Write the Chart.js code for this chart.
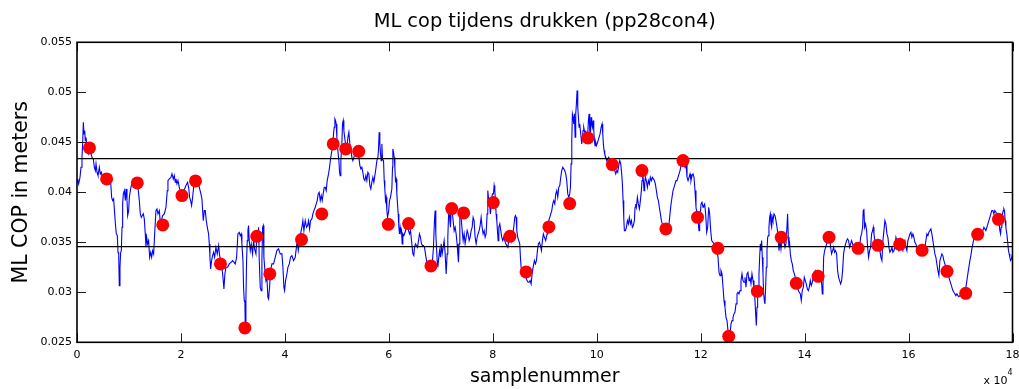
<!DOCTYPE html>
<html>
<head>
<meta charset="utf-8">
<script src="https://cdn.jsdelivr.net/npm/chart.js@4.4.1/dist/chart.umd.min.js"></script>
<style>
html,body{margin:0;padding:0;background:#fff;}
canvas{display:block;}
</style>
</head>
<body>
<canvas id="c" width="1019" height="389"></canvas>
<script>
// ---------- data (x in units of 10^4 samples) ----------
const titleText = 'ML cop tijdens drukken (pp28con4)';
const xTitle = 'samplenummer';
const yTitle = 'ML COP in meters';
const xTickValues = [0,2,4,6,8,10,12,14,16,18];
const xTickLabels = ['0','2','4','6','8','10','12','14','16','18'];
const yTickValues = [0.025,0.03,0.035,0.04,0.045,0.05,0.055];
const yTickLabels = ['0.025','0.03','0.035','0.04','0.045','0.05','0.055'];
const xMin = 0, xMax = 18, yMin = 0.025, yMax = 0.055;

const upperLine = 0.04337;
const lowerLine = 0.03457;

const dotX = [0.24,0.57,1.16,1.65,2.02,2.28,2.76,3.23,3.46,3.71,4.32,4.71,4.93,5.17,5.42,5.99,6.38,6.81,7.21,7.44,8.01,8.33,8.64,9.08,9.48,9.83,10.30,10.87,11.33,11.66,11.94,12.33,12.54,13.09,13.55,13.84,14.26,14.47,15.03,15.41,15.83,16.26,16.74,17.10,17.33,17.73];
const dotY = [0.04444,0.04134,0.04094,0.03674,0.03967,0.04114,0.03284,0.02644,0.03560,0.03184,0.03527,0.03784,0.04484,0.04434,0.04410,0.03680,0.03687,0.03264,0.03837,0.03794,0.03897,0.03560,0.03204,0.03654,0.03887,0.04544,0.04277,0.04217,0.03634,0.04317,0.03750,0.03440,0.02560,0.03010,0.03550,0.03090,0.03160,0.03550,0.03440,0.03470,0.03480,0.03420,0.03210,0.02990,0.03580,0.03730];

const traceX = [
0,0.013,0.032,0.058,0.077,0.096,0.109,0.122,0.135,0.148,0.16,0.173,0.193,0.225,0.25,0.289,0.314,0.334,0.353,0.366,0.385,0.404,0.43,0.449,0.468,0.494,0.526,0.558,0.59,0.622,0.648,0.667,0.686,0.705,0.725,0.744,0.757,0.776,0.789,0.802,0.814,0.827,0.84,0.853,0.866,0.878,0.891,0.911,0.93,0.943,0.962,0.975,0.994,1.007,1.026,1.045,1.071,1.103,1.135,1.154,1.173,1.199,1.218,1.237,1.257,1.276,1.295,1.314,1.327,1.34,1.359,1.378,1.398,1.417,1.436,1.455,1.475,1.494,1.519,1.539,1.558,1.584,1.603,1.622,1.648,1.68,1.712,1.737,1.75,1.776,1.808,1.827,1.853,1.872,1.891,1.904,1.923,1.943,1.968,1.994,2.02,2.045,2.071,2.096,2.128,2.148,2.167,2.186,2.205,2.225,2.244,2.263,2.289,2.308,2.327,2.353,2.378,2.404,2.417,2.43,2.449,2.468,2.487,2.513,2.532,2.545,2.558,2.571,2.59,2.609,2.628,2.648,2.673,2.699,2.725,2.744,2.769,2.789,2.808,2.827,2.846,2.866,2.898,2.93,2.962,2.994,
3.045,3.071,3.096,3.122,3.141,3.16,3.173,3.193,3.205,3.218,3.231,3.237,3.25,3.263,3.276,3.289,3.301,3.314,3.334,3.353,3.378,3.398,3.417,3.443,3.462,3.481,3.494,3.507,3.526,3.545,3.558,3.571,3.584,3.596,3.616,3.635,3.654,3.673,3.686,3.705,3.725,3.75,3.782,3.814,3.846,3.878,3.91,3.943,3.962,3.981,3.994,4.013,4.039,4.058,4.084,4.109,4.135,4.167,4.199,4.218,4.237,4.257,4.276,4.302,4.327,4.346,4.366,4.391,4.417,4.436,4.455,4.475,4.494,4.519,4.539,4.558,4.584,4.603,4.622,4.641,4.66,4.68,4.699,4.718,4.737,4.757,4.776,4.795,4.814,4.84,4.859,4.878,4.904,4.923,4.936,4.949,4.962,4.975,4.987,5.0,5.019,5.039,5.052,5.064,5.077,5.096,5.109,5.122,5.135,5.154,5.173,5.193,5.212,5.231,5.25,5.27,5.289,5.308,5.327,5.347,5.366,5.385,5.404,5.423,5.443,5.462,5.481,5.5,5.519,5.539,5.558,5.577,5.596,5.616,5.635,5.654,5.673,5.693,5.712,5.731,5.75,5.77,5.789,5.801,5.814,5.827,5.84,5.853,5.866,5.878,5.898,5.911,5.923,5.936,5.949,5.962,5.975,5.994,6.013,6.032,
6.058,6.071,6.077,6.09,6.103,6.116,6.128,6.141,6.154,6.167,6.18,6.193,6.205,6.218,6.231,6.244,6.257,6.27,6.289,6.314,6.334,6.353,6.378,6.398,6.417,6.443,6.462,6.481,6.494,6.513,6.532,6.552,6.571,6.59,6.609,6.628,6.648,6.667,6.686,6.705,6.725,6.75,6.782,6.814,6.84,6.859,6.878,6.891,6.904,6.917,6.93,6.943,6.955,6.975,6.994,7.007,7.026,7.045,7.064,7.084,7.103,7.122,7.135,7.148,7.16,7.173,7.186,7.199,7.218,7.237,7.257,7.276,7.295,7.314,7.327,7.34,7.353,7.366,7.378,7.391,7.411,7.43,7.449,7.468,7.487,7.507,7.526,7.545,7.564,7.584,7.603,7.622,7.641,7.66,7.68,7.699,7.718,7.737,7.757,7.776,7.795,7.814,7.834,7.853,7.872,7.891,7.904,7.917,7.93,7.943,7.955,7.968,7.981,7.994,8.013,8.026,8.039,8.052,8.064,8.077,8.09,8.103,8.116,8.135,8.154,8.173,8.193,8.212,8.231,8.25,8.27,8.289,8.308,8.327,8.347,8.366,8.385,8.404,8.423,8.436,8.449,8.462,8.481,8.5,8.519,8.532,8.545,8.564,8.584,8.609,8.635,8.66,8.68,8.699,8.718,8.738,8.757,8.776,8.801,8.821,8.84,8.859,8.878,8.898,8.917,8.936,8.955,8.974,8.994,9.019,9.045,9.058,
9.077,9.096,9.116,9.135,9.154,9.173,9.193,9.212,9.231,9.25,9.27,9.289,9.308,9.327,9.346,9.366,9.385,9.404,9.423,9.443,9.462,9.481,9.494,9.507,9.52,9.532,9.545,9.558,9.571,9.584,9.596,9.609,9.622,9.635,9.648,9.66,9.673,9.686,9.699,9.712,9.725,9.737,9.75,9.763,9.776,9.789,9.802,9.814,9.827,9.84,9.853,9.866,9.878,9.891,9.904,9.917,9.93,9.943,9.955,9.968,9.981,9.994,10.007,10.026,10.045,10.064,10.084,10.103,10.116,10.128,10.141,10.154,10.173,10.193,10.212,10.231,10.25,10.27,10.289,10.308,10.327,10.346,10.366,10.385,10.404,10.423,10.443,10.462,10.481,10.494,10.507,10.52,10.532,10.552,10.571,10.59,10.609,10.628,10.648,10.667,10.686,10.705,10.725,10.737,10.75,10.763,10.782,10.801,10.821,10.84,10.859,10.872,10.885,10.898,10.91,10.923,10.936,10.955,10.975,10.994,11.013,11.032,11.052,11.071,11.09,11.109,11.128,11.148,11.167,11.186,11.205,11.225,11.244,11.263,11.289,11.314,11.34,11.366,11.391,11.41,11.43,11.449,11.468,11.487,11.507,11.526,11.545,11.564,11.584,11.603,11.622,11.641,11.66,11.68,11.699,11.718,11.737,11.757,11.776,11.795,11.814,11.834,11.853,11.872,11.891,11.91,11.93,11.949,11.968,11.981,11.994,12.007,12.026,12.045,12.058,
12.077,12.096,12.116,12.135,12.154,12.173,12.193,12.212,12.237,12.263,12.289,12.314,12.334,12.353,12.372,12.391,12.411,12.43,12.449,12.468,12.487,12.507,12.526,12.545,12.564,12.584,12.603,12.622,12.641,12.66,12.68,12.699,12.718,12.737,12.757,12.776,12.795,12.814,12.834,12.853,12.872,12.891,12.91,12.93,12.949,12.968,12.987,13.007,13.026,13.045,13.058,13.071,13.084,13.096,13.109,13.122,13.135,13.148,13.16,13.173,13.186,13.199,13.212,13.225,13.237,13.25,13.263,13.276,13.289,13.302,13.314,13.327,13.34,13.353,13.366,13.378,13.391,13.411,13.43,13.449,13.468,13.487,13.507,13.526,13.545,13.564,13.584,13.603,13.622,13.641,13.66,13.673,13.686,13.699,13.712,13.725,13.744,13.763,13.782,13.802,13.821,13.84,13.859,13.878,13.898,13.917,13.936,13.955,13.975,13.994,14.013,14.032,14.052,14.071,14.09,14.109,14.128,14.148,14.167,14.186,14.205,14.225,14.244,14.263,14.282,14.302,14.321,14.34,14.353,14.366,14.385,14.404,14.423,14.443,14.462,14.481,14.5,14.519,14.539,14.558,14.577,14.596,14.616,14.635,14.654,14.673,14.693,14.712,14.731,14.75,14.77,14.789,14.808,14.827,14.846,14.866,14.885,14.904,14.923,14.943,14.962,14.981,15.0,15.019,15.038,15.058,
15.077,15.096,15.116,15.128,15.141,15.154,15.173,15.193,15.212,15.231,15.25,15.27,15.289,15.308,15.321,15.334,15.353,15.372,15.391,15.41,15.43,15.449,15.468,15.487,15.507,15.526,15.545,15.564,15.584,15.603,15.622,15.641,15.66,15.68,15.699,15.718,15.737,15.757,15.776,15.795,15.814,15.834,15.853,15.872,15.891,15.91,15.93,15.949,15.968,15.987,16.007,16.026,16.045,16.064,16.084,16.103,16.122,16.141,16.16,16.18,16.199,16.218,16.237,16.257,16.276,16.295,16.314,16.334,16.353,16.372,16.391,16.41,16.43,16.449,16.468,16.487,16.507,16.526,16.545,16.564,16.584,16.603,16.622,16.641,16.66,16.68,16.699,16.718,16.737,16.757,16.776,16.795,16.814,16.834,16.853,16.872,16.891,16.91,16.93,16.949,16.968,16.987,17.007,17.026,17.045,17.064,17.084,17.103,17.122,17.141,17.16,17.18,17.199,17.218,17.237,17.257,17.276,17.295,17.314,17.334,17.353,17.372,17.391,17.41,17.43,17.449,17.468,17.487,17.507,17.526,17.545,17.564,17.583,17.603,17.622,17.641,17.66,17.68,17.699,17.718,17.737,17.757,17.77,17.782,17.795,17.808,17.821,17.834,17.846,17.859,17.872,17.891,17.911,17.923,17.936,17.949,17.962,17.981,18.0
];
const traceY = [
0.041,0.04134,0.04084,0.0415,0.0425,0.0435,0.04484,0.047,0.04584,0.04617,0.04517,0.0455,0.0445,0.04384,0.04417,0.0435,0.04334,0.0425,0.04217,0.04284,0.042,0.04167,0.0425,0.04184,0.042,0.04134,0.04167,0.04117,0.0415,0.04084,0.041,0.0395,0.03917,0.03934,0.03784,0.0365,0.03584,0.03567,0.034,0.03384,0.03067,0.0325,0.034,0.03417,0.0365,0.03884,0.03984,0.04017,0.03917,0.04034,0.03917,0.03767,0.03817,0.0395,0.04017,0.04067,0.04084,0.041,0.04134,0.041,0.0405,0.03917,0.03784,0.0375,0.03767,0.03784,0.03734,0.03584,0.0345,0.0355,0.03484,0.03517,0.0335,0.034,0.0335,0.03417,0.03384,0.03584,0.03817,0.03834,0.03784,0.03817,0.037,0.03717,0.03767,0.03784,0.0385,0.04017,0.04117,0.04134,0.0415,0.04184,0.04134,0.04167,0.041,0.04134,0.04084,0.04117,0.0405,0.04,0.03967,0.04017,0.04034,0.04067,0.041,0.0405,0.0395,0.03917,0.03867,0.0395,0.0405,0.041,0.04117,0.04084,0.04134,0.0405,0.04,0.03934,0.03817,0.03717,0.03817,0.03817,0.03717,0.03634,0.03584,0.03484,0.0335,0.03234,0.03317,0.03367,0.034,0.0335,0.0345,0.03384,0.03467,0.03367,0.03317,0.0325,0.0315,0.03034,0.03184,0.0325,0.0325,0.03284,0.033,0.03317,
0.03284,0.0335,0.03584,0.036,0.03567,0.03584,0.03484,0.03317,0.0305,0.02917,0.029,0.0265,0.02917,0.03317,0.03517,0.03617,0.03667,0.03517,0.03417,0.03484,0.03384,0.03517,0.03434,0.03384,0.03584,0.0355,0.0365,0.03317,0.0305,0.03017,0.03317,0.0365,0.03667,0.0335,0.03217,0.03117,0.0315,0.0295,0.02934,0.0305,0.03217,0.03284,0.03284,0.0335,0.03417,0.03434,0.03384,0.03384,0.0325,0.0305,0.03017,0.03117,0.03184,0.0325,0.03284,0.0335,0.03367,0.03317,0.0335,0.03434,0.03517,0.03417,0.03484,0.03584,0.0365,0.03717,0.03617,0.03717,0.0365,0.03667,0.03717,0.03634,0.03717,0.03734,0.03784,0.03817,0.0385,0.03884,0.03917,0.03984,0.04,0.03917,0.03967,0.03917,0.03984,0.0405,0.0405,0.04017,0.04117,0.04184,0.0425,0.04334,0.04417,0.045,0.04584,0.0465,0.04734,0.04717,0.04684,0.0455,0.04417,0.04317,0.042,0.04167,0.04317,0.04484,0.04684,0.04717,0.04617,0.04534,0.04467,0.04434,0.0455,0.046,0.04484,0.04434,0.0435,0.04317,0.0435,0.04384,0.04417,0.04384,0.04367,0.0435,0.04267,0.04234,0.0425,0.042,0.04134,0.04117,0.04167,0.04117,0.042,0.04184,0.04067,0.04034,0.041,0.0415,0.041,0.04167,0.04234,0.04317,0.0435,0.04417,0.046,0.04484,0.04384,0.04317,0.04484,0.04334,0.04317,0.04117,0.04034,0.03917,0.0395,0.03817,0.0375,0.038,0.03917,0.0395,
0.04034,0.0425,0.04434,0.044,0.0435,0.0425,0.04117,0.04134,0.03984,0.03884,0.03784,0.0365,0.03584,0.0365,0.036,0.03617,0.03484,0.03584,0.03567,0.036,0.0365,0.03684,0.03617,0.03584,0.03617,0.03484,0.03384,0.03367,0.0345,0.03484,0.03467,0.0345,0.03517,0.03584,0.0355,0.03484,0.03467,0.03467,0.0345,0.03384,0.03317,0.03284,0.03267,0.03267,0.03317,0.0345,0.03717,0.03817,0.03584,0.0345,0.03317,0.0325,0.03317,0.03417,0.0335,0.03484,0.03384,0.0345,0.03517,0.03384,0.03184,0.03384,0.0355,0.0375,0.0385,0.03717,0.0365,0.03817,0.03817,0.03717,0.03617,0.0365,0.03584,0.03484,0.03384,0.033,0.03484,0.03784,0.03817,0.0375,0.03617,0.03517,0.03584,0.03484,0.0355,0.03617,0.03584,0.03517,0.0355,0.03617,0.0365,0.0375,0.03717,0.0355,0.03484,0.0355,0.03584,0.03617,0.03667,0.0375,0.0365,0.03584,0.03617,0.0355,0.03584,0.03784,0.04017,0.0395,0.03917,0.0385,0.03784,0.0385,0.0395,0.03984,0.03984,0.04067,0.04017,0.03917,0.03784,0.03717,0.03617,0.03517,0.0365,0.03684,0.03617,0.0355,0.03517,0.0355,0.03517,0.03484,0.03467,0.0345,0.03517,0.0355,0.03584,0.03517,0.03584,0.0365,0.0375,0.03767,0.0375,0.03617,0.0355,0.03517,0.03484,0.0335,0.0325,0.03217,0.032,0.03184,0.0315,0.03117,0.031,0.031,0.03117,0.03084,0.03184,0.0325,0.03317,0.03284,0.03317,0.03417,0.03484,0.035,0.03467,0.03417,0.03517,0.03584,0.0355,0.03517,0.03584,0.03617,
0.03717,0.0375,0.03784,0.03817,0.03884,0.03917,0.03884,0.03984,0.04017,0.0395,0.0405,0.04067,0.0415,0.04217,0.0425,0.04234,0.04217,0.04184,0.04117,0.03984,0.0395,0.03984,0.0405,0.04284,0.04517,0.04784,0.0475,0.04684,0.04784,0.0455,0.04784,0.04884,0.05017,0.0485,0.0475,0.0465,0.04684,0.04617,0.0455,0.04484,0.0455,0.04617,0.0465,0.04617,0.04584,0.04617,0.0455,0.04517,0.04584,0.04717,0.04784,0.04617,0.0455,0.0475,0.04684,0.0465,0.04717,0.04617,0.04517,0.04467,0.045,0.04467,0.04484,0.04517,0.0455,0.04584,0.0465,0.04684,0.04584,0.04484,0.04417,0.04384,0.0435,0.04317,0.04334,0.0435,0.04317,0.04284,0.04267,0.0425,0.04234,0.04217,0.04184,0.04217,0.042,0.04267,0.04317,0.04284,0.04184,0.04084,0.03917,0.0375,0.03617,0.03617,0.0365,0.03717,0.03684,0.0375,0.03684,0.03717,0.0365,0.03667,0.03717,0.0385,0.03884,0.0385,0.0395,0.03884,0.03834,0.03917,0.04017,0.04117,0.04184,0.04117,0.04017,0.04084,0.0415,0.04117,0.0405,0.04117,0.04084,0.0415,0.04117,0.0415,0.04134,0.04117,0.04084,0.04017,0.0395,0.03917,0.0385,0.03784,0.03717,0.03684,0.0365,0.03634,0.03617,0.03634,0.03684,0.03784,0.03884,0.0395,0.04017,0.0405,0.04084,0.04117,0.04117,0.0415,0.04184,0.04217,0.04267,0.043,0.04317,0.04284,0.0425,0.04284,0.0415,0.04117,0.0415,0.04184,0.04117,0.04167,0.04184,0.0415,0.04017,0.0385,0.03784,0.03717,0.03617,0.03717,0.03784,0.03884,0.039,0.0385,0.03867,
0.03884,0.03784,0.036,0.0365,0.0385,0.03784,0.03617,0.03517,0.035,0.03484,0.0345,0.03417,0.0335,0.032,0.03167,0.03217,0.03184,0.0305,0.02917,0.0285,0.0275,0.02717,0.02617,0.02584,0.02584,0.02684,0.02717,0.0275,0.02784,0.028,0.02884,0.02984,0.03,0.02984,0.03017,0.03117,0.03184,0.03117,0.031,0.0315,0.0305,0.03184,0.032,0.03117,0.0315,0.03084,0.03184,0.03117,0.0305,0.02917,0.02784,0.02667,0.0285,0.0295,0.0305,0.03184,0.0335,0.03484,0.03417,0.03517,0.0335,0.03184,0.02984,0.02917,0.02884,0.0305,0.0325,0.03417,0.0355,0.03567,0.0365,0.0375,0.03784,0.03684,0.0365,0.0375,0.03717,0.03784,0.03767,0.03717,0.0365,0.03584,0.03417,0.03517,0.03434,0.03534,0.0355,0.03517,0.0345,0.03484,0.0365,0.03784,0.0355,0.0345,0.03484,0.03384,0.03317,0.03284,0.03217,0.03184,0.0315,0.031,0.0305,0.03017,0.03,0.02984,0.02917,0.03017,0.0305,0.0315,0.03117,0.03084,0.03034,0.03017,0.0305,0.03117,0.03067,0.031,0.0315,0.03184,0.03217,0.032,0.03217,0.032,0.03184,0.03167,0.0315,0.02984,0.0305,0.0335,0.03417,0.0345,0.03484,0.0355,0.03584,0.0355,0.0345,0.03384,0.03417,0.0345,0.034,0.03417,0.03384,0.03217,0.0315,0.03117,0.03084,0.03117,0.03217,0.03384,0.0345,0.03484,0.03517,0.03534,0.03517,0.0345,0.03484,0.03517,0.03484,0.0345,0.03434,0.034,0.03434,0.0345,0.03467,0.0345,
0.0355,0.03584,0.0365,0.03817,0.03834,0.0365,0.03684,0.03617,0.0345,0.0335,0.03417,0.0345,0.03584,0.03617,0.0365,0.03584,0.03517,0.0345,0.03484,0.03517,0.0345,0.03417,0.0335,0.03317,0.03517,0.03617,0.03717,0.03684,0.03584,0.0355,0.0345,0.034,0.03417,0.0345,0.034,0.03417,0.0345,0.0355,0.03517,0.0345,0.03417,0.0345,0.03517,0.0345,0.03417,0.03484,0.03517,0.0345,0.03417,0.03517,0.0355,0.03584,0.036,0.0355,0.03584,0.0355,0.035,0.03484,0.0345,0.03434,0.0345,0.0345,0.03434,0.03417,0.03434,0.03417,0.0345,0.03517,0.03584,0.03567,0.036,0.03617,0.03634,0.03584,0.03517,0.0345,0.03384,0.0335,0.03284,0.03217,0.03167,0.03317,0.0335,0.03384,0.03367,0.03317,0.03284,0.0325,0.03217,0.03184,0.0315,0.03117,0.03084,0.0305,0.03017,0.03,0.02984,0.02967,0.02984,0.02967,0.02957,0.02967,0.02984,0.02984,0.03,0.03,0.03,0.0305,0.03117,0.03184,0.0325,0.03317,0.03367,0.03434,0.03484,0.03534,0.03567,0.03584,0.03584,0.036,0.03617,0.036,0.03617,0.03584,0.03617,0.0365,0.03634,0.03617,0.0365,0.03684,0.03717,0.0375,0.03784,0.03817,0.03817,0.03784,0.03817,0.038,0.03784,0.03767,0.03717,0.03617,0.03584,0.0365,0.03717,0.03784,0.03817,0.03834,0.03817,0.03717,0.0365,0.03584,0.03484,0.03417,0.03384,0.0335,0.03317,0.03334,0.03384
];

// ---------- build datasets from the arrays ----------
const tracePoints = traceX.map((x, i) => ({x: x, y: traceY[i]}));
const dotPoints = dotX.map((x, i) => ({x: x, y: dotY[i]}));
const FONT = 'DejaVu Sans';

const matlabAxes = {
  id: 'matlabAxes',
  afterDraw(chart) {
    const ctx = chart.ctx;
    const a = chart.chartArea;
    const xs = chart.scales.x, ys = chart.scales.y;
    ctx.save();
    // inward ticks on all four sides
    ctx.strokeStyle = '#1a1a1a';
    ctx.lineWidth = 1;
    const tl = 9;
    ctx.beginPath();
    xTickValues.forEach(v => {
      const px = Math.round(xs.getPixelForValue(v)) + 0.5;
      ctx.moveTo(px, a.bottom); ctx.lineTo(px, a.bottom - tl);
      ctx.moveTo(px, a.top); ctx.lineTo(px, a.top + tl);
    });
    yTickValues.forEach(v => {
      const py = Math.round(ys.getPixelForValue(v)) + 0.5;
      ctx.moveTo(a.left, py); ctx.lineTo(a.left + tl, py);
      ctx.moveTo(a.right, py); ctx.lineTo(a.right - tl, py);
    });
    ctx.stroke();
    // box
    ctx.strokeStyle = '#000';
    ctx.lineWidth = 1.6;
    ctx.strokeRect(a.left, a.top, a.right - a.left, a.bottom - a.top);
    // exponent label
    ctx.fillStyle = '#000';
    ctx.textBaseline = 'alphabetic';
    ctx.textAlign = 'right';
    ctx.font = '11px "' + FONT + '"';
    ctx.fillText('x 10', a.right - 5, 384);
    ctx.font = '8px "' + FONT + '"';
    ctx.textAlign = 'left';
    ctx.fillText('4', a.right - 5, 375);
    ctx.restore();
  }
};

new Chart(document.getElementById('c'), {
  type: 'scatter',
  data: {
    datasets: [
      {label: 'punten', data: dotPoints, showLine: false, pointRadius: 6.5, pointHoverRadius: 6.5,
       backgroundColor: '#ff0000', borderWidth: 0},
      {label: 'boven', data: [{x: xMin, y: upperLine}, {x: xMax, y: upperLine}], showLine: true,
       borderColor: '#000', borderWidth: 1.4, pointRadius: 0},
      {label: 'onder', data: [{x: xMin, y: lowerLine}, {x: xMax, y: lowerLine}], showLine: true,
       borderColor: '#000', borderWidth: 1.4, pointRadius: 0},
      {label: 'cop', data: tracePoints, showLine: true, borderColor: '#0000ff', borderWidth: 1.1,
       pointRadius: 0, tension: 0}
    ]
  },
  options: {
    responsive: false,
    animation: false,
    devicePixelRatio: 1,
    layout: {padding: {left: 0, right: 6, top: 0, bottom: 0}},
    plugins: {
      legend: {display: false},
      tooltip: {enabled: false},
      title: {display: true, fullSize: false, text: titleText, color: '#000',
              font: {family: FONT, size: 19.4, weight: 'normal'}, padding: {top: 10, bottom: 9}}
    },
    scales: {
      x: {
        type: 'linear', min: xMin, max: xMax,
        grid: {display: false, drawTicks: false},
        border: {display: false},
        ticks: {stepSize: 2, padding: 6, color: '#000', maxRotation: 0, autoSkip: false,
                font: {family: FONT, size: 11},
                callback: (v, i) => xTickLabels[i] !== undefined ? xTickLabels[i] : ''},
        title: {display: true, text: xTitle, color: '#000', font: {family: FONT, size: 19},
                padding: {top: 0, bottom: 1}},
        afterFit(s) { s.height = 46.7; s.paddingLeft = 0; s.paddingRight = 0; }
      },
      y: {
        type: 'linear', min: yMin, max: yMax,
        grid: {display: false, drawTicks: false},
        border: {display: false},
        ticks: {stepSize: 0.005, padding: 5, color: '#000', autoSkip: false,
                font: {family: FONT, size: 11},
                callback: (v, i) => yTickLabels[i] !== undefined ? yTickLabels[i] : ''},
        title: {display: true, text: yTitle, color: '#000', font: {family: FONT, size: 20.5},
                padding: {top: 9, bottom: 0}},
        afterFit(s) { s.width = 77; }
      }
    }
  },
  plugins: [matlabAxes]
});
</script>
</body>
</html>
